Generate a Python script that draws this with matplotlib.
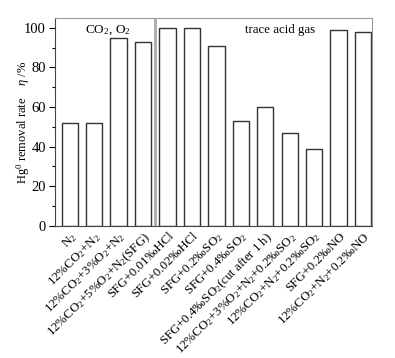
import matplotlib
matplotlib.use('Agg')
import matplotlib.pyplot as plt
import numpy as np

plt.rcParams['font.family'] = ['Liberation Serif', 'DejaVu Serif']
plt.rcParams['mathtext.fontset'] = 'custom'
plt.rcParams['mathtext.rm'] = 'Liberation Serif'
plt.rcParams['mathtext.it'] = 'Liberation Serif:italic'

# gas conditions and Hg0 removal rates
labels = ['N$_2$',
          '12%CO$_2$+N$_2$',
          '12%CO$_2$+3%O$_2$+N$_2$',
          '12%CO$_2$+5%O$_2$+N$_2$(SFG)',
          'SFG+0.01\u2030HCl',
          'SFG+0.02\u2030HCl',
          'SFG+0.2\u2030SO$_2$',
          'SFG+0.4\u2030SO$_2$',
          'SFG+0.4\u2030SO$_2$(cut after 1 h)',
          '12%CO$_2$+3%O$_2$+N$_2$+0.2\u2030SO$_2$',
          '12%CO$_2$+N$_2$+0.2\u2030SO$_2$',
          'SFG+0.2\u2030NO',
          '12%CO$_2$+N$_2$+0.2\u2030NO']
removal = [52, 52, 95, 93, 100, 100, 91, 53, 60, 47, 39, 99, 98]

fig = plt.figure(figsize=(3.95, 3.58), dpi=100)
ax = fig.add_axes([0.139, 0.369, 0.803, 0.581])

x = np.arange(len(labels))
ax.bar(x, removal, width=0.67, color='white', edgecolor='#333333', linewidth=1.0)
ax.axvline(3.5, color='#aaaaaa', linewidth=2.0)

ax.set_xlim(-0.61, 12.37)
ax.set_ylim(0, 105)
ax.set_yticks([0, 20, 40, 60, 80, 100])
ax.set_yticks(np.arange(10, 105, 20), minor=True)
ax.tick_params(axis='y', labelsize=10.5, length=4, width=0.8, direction='out', pad=2.5)
ax.tick_params(axis='y', which='minor', length=2.5, width=0.8)
ax.set_xticks(x)
ax.set_xticklabels(labels, rotation=45, ha='right', rotation_mode='anchor', fontsize=9.3)
ax.tick_params(axis='x', length=0, pad=3)

for s in ['top', 'right']:
    ax.spines[s].set_color('#999999')
ax.spines['left'].set_color('#444444')
ax.spines['bottom'].set_color('#444444')

ax.text(1.56, 99, 'CO$_2$, O$_2$', ha='center', va='center', fontsize=9.5)
ax.text(8.6, 99, 'trace acid gas', ha='center', va='center', fontsize=9.3)

ax.set_ylabel('Hg$^0$ removal rate    $\\eta$ /%', fontsize=9, labelpad=-6)

fig.savefig('out.png', dpi=100)
